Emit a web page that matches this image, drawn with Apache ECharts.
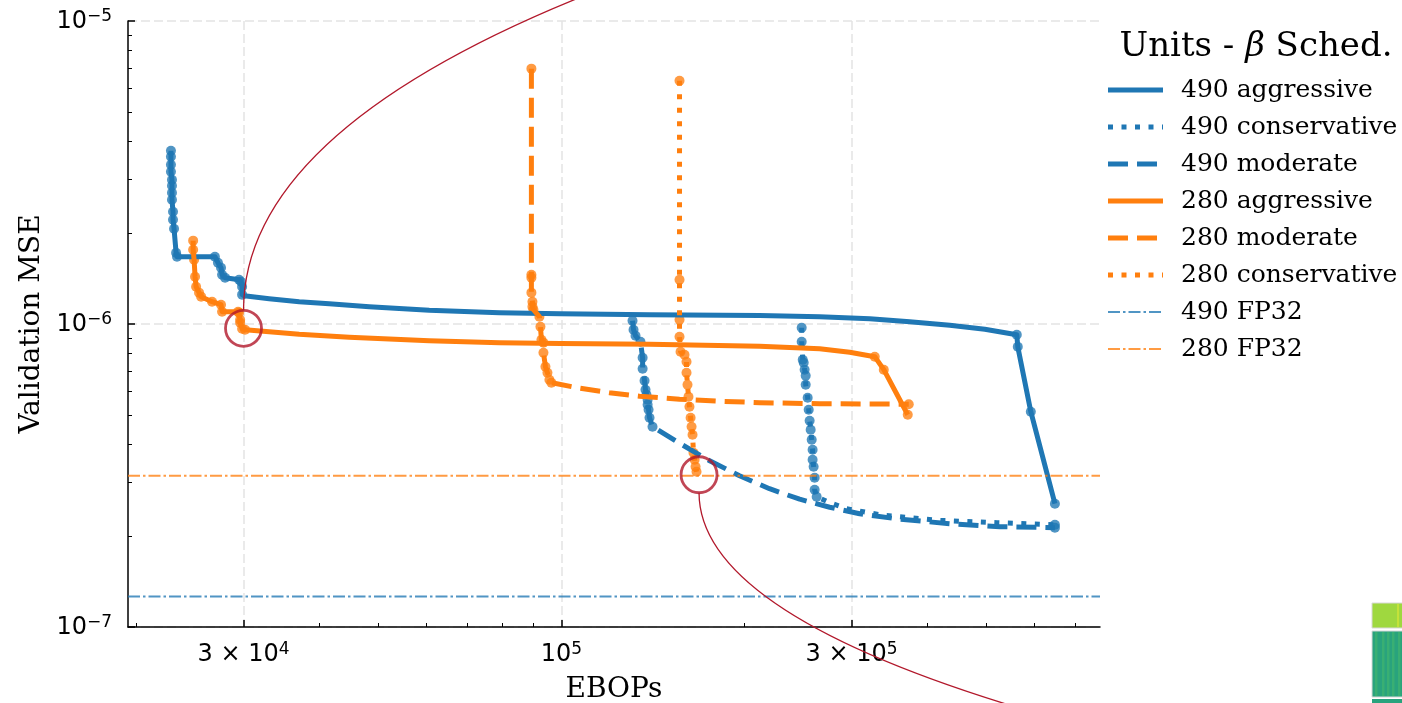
<!DOCTYPE html>
<html><head><meta charset="utf-8">
<script src="https://cdn.jsdelivr.net/npm/echarts@6/dist/echarts.min.js"></script>
<style>html,body{margin:0;padding:0;background:#fff}#c{width:1402px;height:703px}</style>
</head><body><div id="c"></div><script>
// ---------------- data (EBOPs, validation MSE) ----------------
const agg490Head = [[2.279e4,3.731e-6],[2.279e4,3.565e-6],[2.279e4,3.355e-6],[2.279e4,3.181e-6],[2.288e4,2.994e-6],[2.288e4,2.861e-6],[2.288e4,2.713e-6],[2.288e4,2.572e-6],[2.297e4,2.348e-6],[2.297e4,2.209e-6],[2.306e4,2.063e-6],[2.324e4,1.719e-6],[2.332e4,1.668e-6],[2.692e4,1.668e-6],[2.723e4,1.593e-6],[2.755e4,1.534e-6],[2.766e4,1.454e-6],[2.798e4,1.422e-6],[2.950e4,1.400e-6],[2.973e4,1.379e-6],[2.984e4,1.328e-6],[2.984e4,1.250e-6]];
const agg490Curve = [[3.007e4,1.240e-6],[3.306e4,1.212e-6],[3.704e4,1.185e-6],[4.150e4,1.167e-6],[4.830e4,1.141e-6],[6.062e4,1.111e-6],[7.908e4,1.090e-6],[9.962e4,1.080e-6],[1.396e5,1.073e-6],[2.118e5,1.067e-6],[2.659e5,1.057e-6],[3.215e5,1.041e-6],[3.740e5,1.018e-6],[4.353e5,9.908e-7],[4.971e5,9.612e-7]];
const agg490Tail = [[5.610e5,9.220e-7],[5.631e5,8.416e-7],[5.916e5,5.134e-7],[6.481e5,2.552e-7]];

const cons490Head = [[2.484e5,9.723e-7],[2.484e5,8.742e-7],[2.494e5,7.625e-7],[2.503e5,7.453e-7],[2.512e5,7.067e-7],[2.522e5,6.752e-7],[2.522e5,6.306e-7],[2.541e5,5.713e-7],[2.551e5,5.213e-7],[2.560e5,4.795e-7],[2.570e5,4.479e-7],[2.580e5,4.151e-7],[2.589e5,3.847e-7],[2.589e5,3.565e-7],[2.599e5,3.381e-7],[2.609e5,3.110e-7],[2.609e5,2.838e-7],[2.629e5,2.692e-7]];
const cons490Curve = [[2.762e5,2.571e-7],[2.946e5,2.457e-7],[3.377e5,2.339e-7],[4.144e5,2.251e-7],[5.203e5,2.209e-7]];
const cons490Tail = [[6.481e5,2.176e-7]];

const mod490Head = [[1.309e5,1.025e-6],[1.314e5,9.577e-7],[1.324e5,9.150e-7],[1.349e5,8.742e-7],[1.360e5,7.741e-7],[1.360e5,7.121e-7],[1.370e5,6.501e-7],[1.375e5,6.071e-7],[1.380e5,5.845e-7],[1.386e5,5.627e-7],[1.386e5,5.417e-7],[1.391e5,5.213e-7],[1.396e5,4.905e-7],[1.412e5,4.582e-7]];
const mod490Curve = [[1.564e5,4.042e-7],[1.753e5,3.538e-7],[1.963e5,3.157e-7],[2.199e5,2.860e-7],[2.465e5,2.641e-7],[2.762e5,2.485e-7],[3.094e5,2.365e-7],[3.601e5,2.268e-7],[4.353e5,2.193e-7],[5.262e5,2.143e-7]];
const mod490Tail = [[6.481e5,2.127e-7]];

const agg280Head = [[2.479e4,1.884e-6],[2.479e4,1.759e-6],[2.488e4,1.630e-6],[2.497e4,1.432e-6],[2.507e4,1.328e-6],[2.535e4,1.269e-6],[2.555e4,1.231e-6],[2.663e4,1.185e-6],[2.755e4,1.158e-6],[2.766e4,1.098e-6],[2.939e4,1.098e-6],[2.950e4,1.090e-6],[2.962e4,1.033e-6],[2.962e4,1.010e-6],[2.984e4,9.650e-7],[3.018e4,9.577e-7]];
const agg280Curve = [[3.306e4,9.432e-7],[3.704e4,9.254e-7],[4.477e4,9.046e-7],[6.062e4,8.809e-7],[7.908e4,8.676e-7],[9.962e4,8.622e-7],[1.396e5,8.570e-7],[2.118e5,8.447e-7],[2.659e5,8.289e-7],[2.980e5,8.070e-7]];
const agg280Tail = [[3.276e5,7.800e-7],[3.390e5,7.067e-7],[3.712e5,5.018e-7]];

const mod280Head = [[8.925e4,6.962e-6],[8.925e4,1.454e-6],[8.925e4,1.422e-6],[8.925e4,1.269e-6],[8.960e4,1.185e-6],[8.960e4,1.141e-6],[8.994e4,1.115e-6],[9.200e4,1.057e-6],[9.236e4,9.797e-7],[9.271e4,8.876e-7],[9.342e4,8.676e-7],[9.342e4,8.041e-7],[9.413e4,7.230e-7],[9.484e4,6.908e-7],[9.555e4,6.550e-7],[9.627e4,6.402e-7]];
const mod280Curve = [[1.071e5,6.140e-7],[1.199e5,5.934e-7],[1.344e5,5.778e-7],[1.564e5,5.648e-7],[1.820e5,5.562e-7],[2.118e5,5.500e-7],[2.659e5,5.458e-7]];
const mod280Tail = [[3.726e5,5.437e-7]];

const cons280Head = [[1.564e5,6.353e-6],[1.564e5,1.400e-6],[1.564e5,1.033e-6],[1.564e5,9.081e-7],[1.570e5,8.102e-7],[1.594e5,7.920e-7],[1.606e5,7.510e-7],[1.606e5,6.908e-7],[1.612e5,6.306e-7],[1.618e5,5.756e-7],[1.624e5,5.335e-7],[1.631e5,4.905e-7],[1.637e5,4.582e-7],[1.643e5,4.312e-7],[1.649e5,3.760e-7],[1.656e5,3.565e-7],[1.662e5,3.381e-7],[1.668e5,3.255e-7]];
const cons280Curve = [];
const cons280Tail = [];

const fp32Mse490 = 1.262e-7;
const fp32Mse280 = 3.157e-7;
const highlightPoints = [[3.0e4, 9.68e-7], [1.684e5, 3.18e-7]];

const xMajorTicks = [3e4, 1e5, 3e5];
const xTickLabels = ['3 × 10^4', '10^5', '3 × 10^5'];
const xMinorTicks = [2e4,4e4,5e4,6e4,7e4,8e4,9e4,2e5,4e5,5e5,6e5,7e5];
const yMajorTicks = [1e-7, 1e-6, 1e-5];
const yTickLabels = ['10^−7', '10^−6', '10^−5'];
const yMinorTicks = [2e-7,3e-7,4e-7,5e-7,6e-7,7e-7,8e-7,9e-7,2e-6,3e-6,4e-6,5e-6,6e-6,7e-6,8e-6,9e-6];
const xAxisTitle = 'EBOPs';
const yAxisTitle = 'Validation MSE';
const legendTitle = ['Units - ', 'β', ' Sched.'];

// ---------------- chart ----------------
const BLUE = '#1f77b4', ORANGE = '#ff7f0e', RED = '#b2182b';
const X0 = 1.937e4, X1 = 7.688e5, Y0 = 1e-7, Y1 = 1e-5;
const L = Math.log10;
const DASH = {solid: 'solid', dashed: [20, 9], dotted: [5, 8.5], dashdot: [12, 3, 2.5, 3]};

const configs = [
  {name: '490 aggressive',   color: BLUE,   style: 'solid',  head: agg490Head,  curve: agg490Curve,  tail: agg490Tail},
  {name: '490 conservative', color: BLUE,   style: 'dotted', head: cons490Head, curve: cons490Curve, tail: cons490Tail},
  {name: '490 moderate',     color: BLUE,   style: 'dashed', head: mod490Head,  curve: mod490Curve,  tail: mod490Tail},
  {name: '280 aggressive',   color: ORANGE, style: 'solid',  head: agg280Head,  curve: agg280Curve,  tail: agg280Tail},
  {name: '280 moderate',     color: ORANGE, style: 'dashed', head: mod280Head,  curve: mod280Curve,  tail: mod280Tail},
  {name: '280 conservative', color: ORANGE, style: 'dotted', head: cons280Head, curve: cons280Curve, tail: cons280Tail}
];
const fp32 = [
  {name: '490 FP32', color: BLUE, value: fp32Mse490},
  {name: '280 FP32', color: ORANGE, value: fp32Mse280}
];

const chart = echarts.init(document.getElementById('c'), null, {renderer: 'canvas'});

function supText(s) {
  const p = s.split('^');
  return '{m|' + p[0] + '}{e|' + p[1] + '}';
}
function labelFmt(ticks, labels) {
  return function (v) {
    for (let i = 0; i < ticks.length; i++) {
      if (Math.abs(L(ticks[i]) - v) < 1e-6) return supText(labels[i]);
    }
    return '';
  };
}
const richTick = {
  m: {fontFamily: 'DejaVu Sans', fontSize: 24, lineHeight: 26, verticalAlign: 'bottom', color: '#000'},
  e: {fontFamily: 'DejaVu Sans', fontSize: 17, lineHeight: 17, padding: [0, 0, 9, 0], verticalAlign: 'bottom', color: '#000'}
};
const axisBlack = {color: '#000', width: 1.5};
const gridLine = {show: true, lineStyle: {color: '#e4e4e4', width: 1.5, type: [9, 4]}};

const series = [];
configs.forEach(function (c) {
  series.push({type: 'line', name: c.name, xAxisIndex: 0, yAxisIndex: 0,
    data: c.head.concat(c.curve, c.tail),
    showSymbol: false, symbol: 'none', silent: true,
    lineStyle: {color: c.color, width: 5, type: DASH[c.style], cap: 'butt', join: 'round'}});
  series.push({type: 'scatter', name: c.name + ' pts', xAxisIndex: 0, yAxisIndex: 0,
    data: c.head.concat(c.tail), symbol: 'circle', symbolSize: 10, silent: true,
    itemStyle: {color: c.color, opacity: 0.78}});
});
fp32.forEach(function (f) {
  series.push({
    type: 'line', name: f.name, xAxisIndex: 0, yAxisIndex: 0,
    data: [[X0, f.value], [X1, f.value]], showSymbol: false, symbol: 'none', silent: true,
    lineStyle: {color: f.color, width: 2, type: DASH.dashdot, opacity: 0.78}
  });
});
series.push({
  type: 'scatter', name: 'highlight', xAxisIndex: 0, yAxisIndex: 0,
  data: highlightPoints, symbol: 'circle', symbolSize: 36, silent: true, z: 10,
  itemStyle: {color: 'rgba(0,0,0,0)', borderColor: RED, borderWidth: 2.8}
});

const option = {
  animation: false,
  backgroundColor: '#fff',
  grid: {left: 128, right: 302, top: 21, bottom: 76, containLabel: false, outerBoundsMode: 'none'},
  xAxis: [
    {type: 'log', logBase: 10, min: X0, max: X1, show: false},
    {type: 'value', min: L(X0), max: L(X1), position: 'bottom',
      axisLine: {show: true, onZero: false, lineStyle: axisBlack},
      axisTick: {show: true, inside: true, length: 7, customValues: xMajorTicks.map(L), lineStyle: axisBlack},
      axisLabel: {show: true, customValues: xMajorTicks.map(L), margin: 14, formatter: labelFmt(xMajorTicks, xTickLabels), rich: richTick},
      splitLine: gridLine,
      name: xAxisTitle, nameLocation: 'middle', nameGap: 49,
      nameTextStyle: {fontFamily: 'DejaVu Serif', fontSize: 28, color: '#000'}},
    {type: 'value', min: L(X0), max: L(X1), position: 'bottom',
      axisLine: {show: false, onZero: false},
      axisTick: {show: true, inside: true, length: 4, customValues: xMinorTicks.map(L), lineStyle: {color: '#000', width: 1}},
      axisLabel: {show: false}, splitLine: {show: false}}
  ],
  yAxis: [
    {type: 'log', logBase: 10, min: Y0, max: Y1, show: false},
    {type: 'value', min: L(Y0), max: L(Y1), position: 'left',
      axisLine: {show: true, onZero: false, lineStyle: axisBlack},
      axisTick: {show: true, inside: true, length: 7, customValues: yMajorTicks.map(L), lineStyle: axisBlack},
      axisLabel: {show: true, customValues: yMajorTicks.map(L), margin: 16, formatter: labelFmt(yMajorTicks, yTickLabels), rich: richTick},
      splitLine: gridLine,
      name: yAxisTitle, nameLocation: 'middle', nameGap: 81, nameRotate: 90,
      nameTextStyle: {fontFamily: 'DejaVu Serif', fontSize: 28, color: '#000'}},
    {type: 'value', min: L(Y0), max: L(Y1), position: 'left',
      axisLine: {show: false, onZero: false},
      axisTick: {show: true, inside: true, length: 4, customValues: yMinorTicks.map(L), lineStyle: {color: '#000', width: 1}},
      axisLabel: {show: false}, splitLine: {show: false}}
  ],
  series: series
};
chart.setOption(option);

// ---------------- graphics: legend, annotation connectors, inset fragment ----------------
const g = [];
g.push({type: 'text', x: 1256, y: 47, z: 20,
  style: {text: '{n|' + legendTitle[0] + '}{b|' + legendTitle[1] + '}{n|' + legendTitle[2] + '}',
    align: 'center', verticalAlign: 'middle',
    rich: {n: {fontFamily: 'DejaVu Serif', fontSize: 34, color: '#000'},
           b: {fontFamily: 'DejaVu Serif', fontStyle: 'italic', fontSize: 34, color: '#000'}}}});
const legendItems = configs.map(function (c) { return {name: c.name, color: c.color, dash: DASH[c.style], width: 5, op: 1}; })
  .concat(fp32.map(function (f) { return {name: f.name, color: f.color, dash: DASH.dashdot, width: 2, op: 0.78}; }));
legendItems.forEach(function (it, i) {
  const y = 90 + i * 37;
  g.push({type: 'line', z: 20, shape: {x1: 1108, y1: y, x2: 1163, y2: y},
    style: {stroke: it.color, lineWidth: it.width, lineDash: it.dash === 'solid' ? null : it.dash, lineCap: 'butt', opacity: it.op}});
  g.push({type: 'text', z: 20, x: 1181, y: y,
    style: {text: it.name, fontFamily: 'DejaVu Serif', fontSize: 25, fill: '#000', verticalAlign: 'middle', align: 'left'}});
});
const p1 = chart.convertToPixel({xAxisIndex: 0, yAxisIndex: 0}, highlightPoints[0]);
const p2 = chart.convertToPixel({xAxisIndex: 0, yAxisIndex: 0}, highlightPoints[1]);
g.push({type: 'bezierCurve', z: 15, shape: {x1: p1[0], y1: p1[1] - 18, cpx1: p1[0], cpy1: 135, x2: 576, y2: -1},
  style: {stroke: RED, lineWidth: 1.3, fill: null}});
g.push({type: 'bezierCurve', z: 15, shape: {x1: p2[0], y1: p2[1] + 18, cpx1: p2[0], cpy1: 609, x2: 1006, y2: 704},
  style: {stroke: RED, lineWidth: 1.3, fill: null}});
g.push({type: 'rect', z: 5, shape: {x: 1372, y: 603, width: 32, height: 25}, style: {fill: '#9fd83f', stroke: '#d8d8d8', lineWidth: 1}});
g.push({type: 'rect', z: 6, shape: {x: 1397, y: 604, width: 2, height: 23}, style: {fill: '#c4e23a'}});
g.push({type: 'rect', z: 5, shape: {x: 1372, y: 631, width: 32, height: 66}, style: {fill: '#29a37d', stroke: '#d8d8d8', lineWidth: 1}});
[1375, 1382, 1387, 1392, 1398].forEach(function (sx) {
  g.push({type: 'rect', z: 6, shape: {x: sx, y: 632, width: 2.5, height: 64}, style: {fill: '#3db271', opacity: 0.8}});
});
g.push({type: 'rect', z: 5, shape: {x: 1372, y: 699, width: 32, height: 6}, style: {fill: '#29a37d'}});
chart.setOption({graphic: g});
</script></body></html>
